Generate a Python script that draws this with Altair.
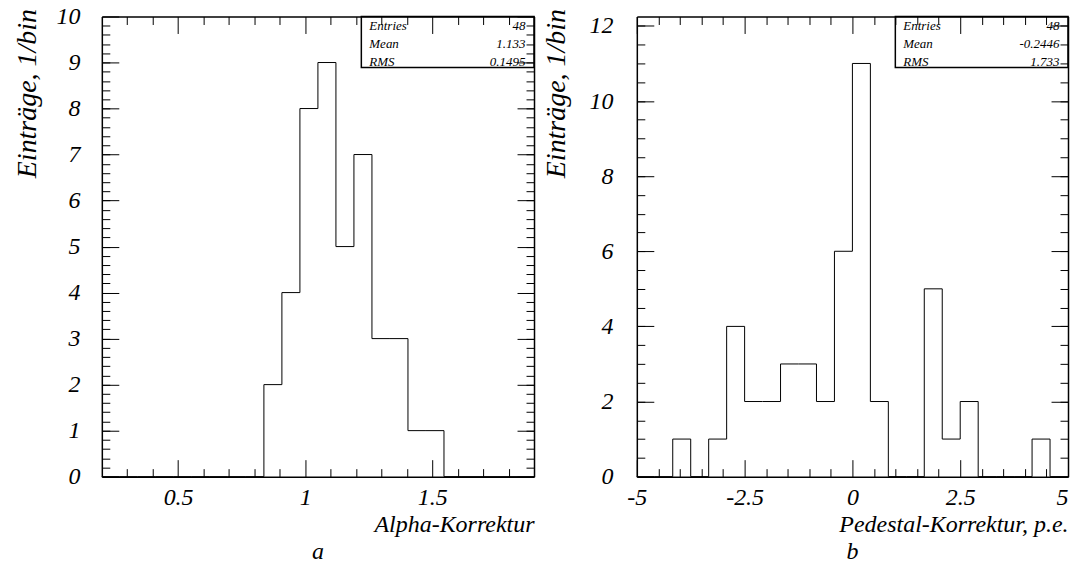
import altair as alt
import pandas as pd

# ---------------- data ----------------
n_bins = 24
alpha_range = [0.2, 1.9]
alpha_counts = [0, 0, 0, 0, 0, 0, 0, 0, 0, 2, 4, 8, 9, 5, 7, 3, 3, 1, 1, 0, 0, 0, 0, 0]
ped_range = [-5.0, 5.0]
ped_counts = [0, 0, 1, 0, 1, 4, 2, 2, 3, 3, 2, 6, 11, 2, 0, 0, 5, 1, 2, 0, 0, 0, 1, 0]

alpha_ymax = 10
ped_ymax = 12.25

alpha_x_major = [0.5, 1, 1.5]
alpha_x_minor = [0.3, 0.4, 0.6, 0.7, 0.8, 0.9, 1.1, 1.2, 1.3, 1.4, 1.6, 1.7, 1.8]
alpha_y_major = [0, 1, 2, 3, 4, 5, 6, 7, 8, 9, 10]
alpha_y_minor = [round(0.2 * k, 1) for k in range(1, 50)]
ped_x_major = [-5, -2.5, 0, 2.5, 5]
ped_x_minor = [-4.5, -4, -3.5, -3, -2, -1.5, -1, -0.5, 0.5, 1, 1.5, 2, 3, 3.5, 4, 4.5]
ped_y_major = [0, 2, 4, 6, 8, 10, 12]
ped_y_minor = [0.5 * k for k in range(1, 25)]

stat_names = ["Entries", "Mean", "RMS"]
alpha_stats = ["48", "1.133", "0.1495"]
ped_stats = ["48", "-0.2446", "1.733"]

x_titles = ["Alpha-Korrektur", "Pedestal-Korrektur, p.e."]
y_title = "Einträge, 1/bin"
panel_letters = ["a", "b"]

# ---------------- layout / style ----------------
FONT = "Times New Roman, Liberation Serif, Times, DejaVu Serif, serif"
W, H = 968, 461
MAJ, MIN = 17, 8


def panel(counts, rng, xmaj, xmin, ymaj, ymin, ymax, x0, x1, xtitle, stats, letter, ylab_pad, ytitle_x):
    lo, hi = rng
    step = (hi - lo) / n_bins
    edges = [lo + k * step for k in range(n_bins + 1)]
    df = pd.DataFrame({"edge": edges, "count": counts + [counts[-1]]})
    xs = alt.Scale(domain=[lo, hi], range=[x0, x1], nice=False, zero=False)
    ys = alt.Scale(domain=[0, ymax], range=[H, 0], nice=False, zero=False)

    common = dict(grid=False, labelFlush=False, labelOverlap=False)

    def tick_axis(orient, vals, size, domain=False, offset=0):
        return alt.Axis(orient=orient, values=vals, ticks=True, tickSize={"expr": str(-size)},
                        tickColor="black", tickWidth=1, domain=domain, domainColor="black",
                        domainWidth=1.5, labels=False, title=None, offset=offset, **common)

    xlab = alt.Axis(orient="bottom", values=xmaj, ticks=False, tickSize=0, domain=True,
                    domainColor="black", domainWidth=1.5,
                    labelExpr="'' + datum.value", labelFont=FONT, labelFontStyle="italic",
                    labelFontSize=24, labelColor="black", labelPadding=28,
                    labelBaseline="alphabetic",
                    labelAlign={"condition": {"test": f"datum.value >= {hi}", "value": "right"},
                                "value": "center"},
                    title=xtitle, titleX=x1, titleY=55, titleAlign="right",
                    titleBaseline="alphabetic", titleFont=FONT, titleFontStyle="italic",
                    titleFontWeight="normal", titleFontSize=24, titleColor="black", **common)
    ylab = alt.Axis(orient="left", offset=-x0, values=ymaj, ticks=False, tickSize=0, domain=True,
                    domainColor="black", domainWidth=1.5,
                    labelExpr="'' + datum.value", labelFont=FONT, labelFontStyle="italic",
                    labelFontSize=24, labelColor="black", labelPadding=ylab_pad,
                    labelBaseline="middle", labelAlign="right",
                    title=y_title, titleX=ytitle_x, titleY=-8, titleAngle=270,
                    titleAlign="right", titleBaseline="middle", titleFont=FONT,
                    titleFontStyle="italic", titleFontWeight="normal", titleFontSize=28,
                    titleColor="black", **common)

    def hist(xaxis, yaxis, opacity):
        return alt.Chart(df).mark_line(interpolate="step-after", color="black",
                                       strokeWidth=1, opacity=opacity).encode(
            x=alt.X("edge:Q", scale=xs, axis=xaxis),
            y=alt.Y("count:Q", scale=ys, axis=yaxis),
        )

    roff = -(W - x1)
    layers = [
        hist(xlab, ylab, 1),
        hist(tick_axis("bottom", xmaj, MAJ), tick_axis("left", ymaj, MAJ, offset=-x0), 0),
        hist(tick_axis("bottom", xmin, MIN), tick_axis("left", ymin, MIN, offset=-x0), 0),
        hist(tick_axis("top", xmaj, MAJ, domain=True), tick_axis("right", ymaj, MAJ, domain=True, offset=roff), 0),
        hist(tick_axis("top", xmin, MIN), tick_axis("right", ymin, MIN, offset=roff), 0),
    ]

    info = pd.DataFrame({"names": ["\n".join(stat_names)], "vals": ["\n".join(stats)],
                         "letter": [letter]})
    box = alt.Chart(info).mark_rect(fillOpacity=0, stroke="black", strokeWidth=1.5).encode(
        x=alt.value(x1 - 173), x2=alt.value(x1), y=alt.value(0), y2=alt.value(51))
    names = alt.Chart(info).mark_text(align="left", baseline="alphabetic", lineBreak="\n",
                                      lineHeight=18, font=FONT, fontStyle="italic",
                                      fontSize=13, color="black").encode(
        x=alt.value(x1 - 165), y=alt.value(13.3), text="names:N")
    vals = alt.Chart(info).mark_text(align="right", baseline="alphabetic", lineBreak="\n",
                                     lineHeight=18, font=FONT, fontStyle="italic",
                                     fontSize=13, color="black").encode(
        x=alt.value(x1 - 8.5), y=alt.value(13.3), text="vals:N")
    let = alt.Chart(info).mark_text(align="center", baseline="alphabetic", font=FONT,
                                    fontStyle="italic", fontSize=24, color="black").encode(
        x=alt.value((x0 + x1) / 2), y=alt.value(H + 83), text="letter:N")
    return layers + [box, names, vals, let]


left = panel(alpha_counts, alpha_range, alpha_x_major, alpha_x_minor, alpha_y_major,
             alpha_y_minor, alpha_ymax, 0, 433, x_titles[0], alpha_stats, panel_letters[0], 22, -74)
right = panel(ped_counts, ped_range, ped_x_major, ped_x_minor, ped_y_major,
              ped_y_minor, ped_ymax, 536, 968, x_titles[1], ped_stats, panel_letters[1], 24, -80)

chart = alt.layer(*(left + right)).resolve_scale(
    x="independent", y="independent"
).properties(
    width=W, height=H,
    autosize=alt.AutoSizeParams(type="none"),
    padding={"left": 94, "top": 8, "right": 3, "bottom": 86},
    background="white",
).configure_view(strokeOpacity=0)

chart.save("out.html", embed_options={"renderer": "svg", "actions": False})
